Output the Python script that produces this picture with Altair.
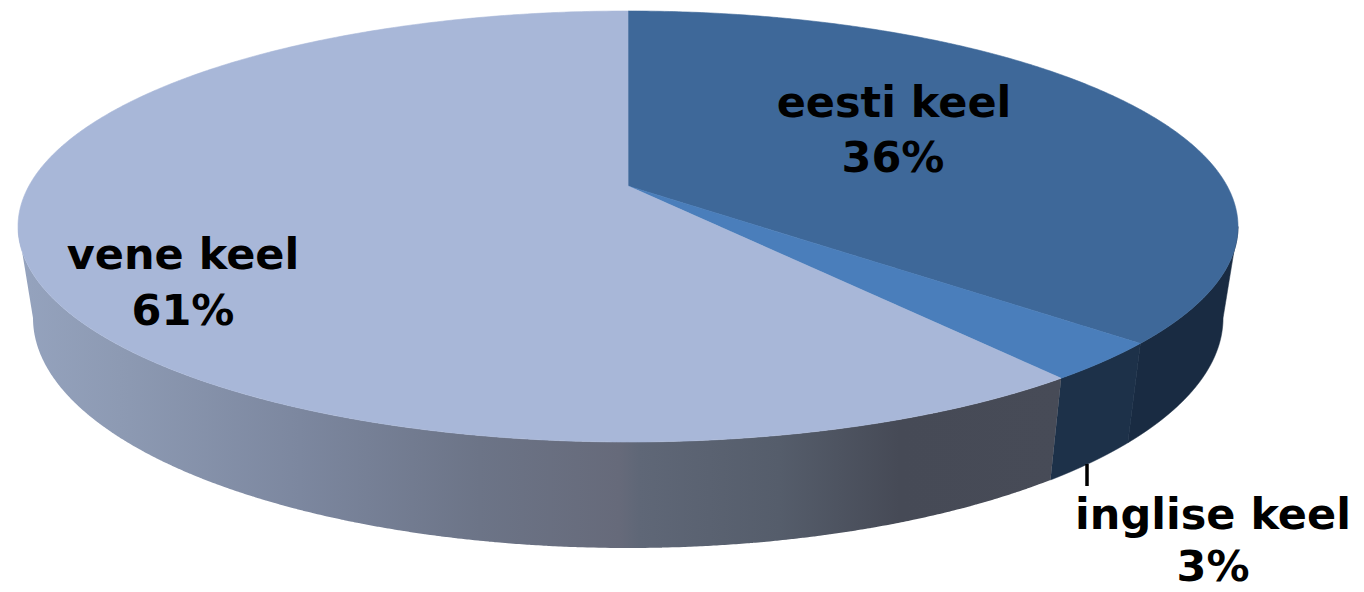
import math
import altair as alt
import pandas as pd

# Shares of the three languages, clockwise from twelve o'clock
languages = ["eesti keel", "inglise keel", "vene keel"]
shares = [36, 3, 61]

top_colors = ["#3E6899", "#4A7EBB", "#A8B7D8"]
wall_colors = ["#192B42", "#1D3149"]

# Tilted-disc geometry: upper rim, lower rim and the projected disc centre
WIDTH, HEIGHT = 1364, 592
CX = 628
TOP_RX, TOP_RY, TOP_CY = 610, 215.5, 226.5
LOW_RX, LOW_RY, LOW_CY = 595, 230, 318
APEX_Y = 186
PERSPECTIVE = -0.145
WALL_STOPS = [
    (18, "#95A3BE"), (120, "#8D9AB3"), (300, "#7C879F"), (480, "#6C7487"),
    (620, "#666A7A"), (640, "#5F6777"), (780, "#555D6B"), (900, "#464A56"),
    (1062, "#474B57"),
]


def rim_unit(pct):
    """Project a cumulative percentage onto the unit rim, with foreshortening."""
    a = math.radians(pct * 3.6)
    u, v = math.sin(a), -math.cos(a)
    d = 1 + PERSPECTIVE * v
    return u * math.sqrt(1 - PERSPECTIVE ** 2) / d, (v + PERSPECTIVE) / d


def rim_px(pct, rx, ry, cy):
    ux, uy = rim_unit(pct)
    return CX + ux * rx, cy + uy * ry


def frange(a, b, n=260):
    return [a + (b - a) * i / n for i in range(n + 1)]


def columns(polygon):
    """Turn a polygon into x / y-top / y-bottom columns for an area mark."""
    xs = sorted({round(p[0] + s, 3) for p in polygon for s in (-0.05, 0.05)})
    rows = []
    n = len(polygon)
    for x in xs:
        hits = []
        for i in range(n):
            (x0, y0), (x1, y1) = polygon[i], polygon[(i + 1) % n]
            if min(x0, x1) <= x < max(x0, x1) and x0 != x1:
                hits.append(y0 + (y1 - y0) * (x - x0) / (x1 - x0))
        if len(hits) >= 2:
            rows.append({"x": x, "y": min(hits), "y2": max(hits)})
    return pd.DataFrame(rows)


def area_layer(polygon, fill, seam=True):
    kwargs = {"stroke": fill, "strokeWidth": 0.6} if seam else {}
    return alt.Chart(columns(polygon)).mark_area(color=fill, **kwargs).encode(
        x=alt.X("x:Q", scale=x_scale, axis=None),
        y=alt.Y("y:Q", scale=y_scale, axis=None),
        y2="y2:Q",
    )


x_scale = alt.Scale(domain=[0, WIDTH], nice=False, zero=False)
y_scale = alt.Scale(domain=[HEIGHT, 0], nice=False, zero=False)

# Cumulative boundaries of the sectors
edges = [0]
for s in shares:
    edges.append(edges[-1] + s)

# Percentages where the disc reaches its far right and far left sides
right_pct = 0
left_pct = 0
best_r, best_l = -9, 9
for i in range(0, 10001):
    p = i / 100
    ux, _ = rim_unit(p)
    if ux > best_r:
        best_r, right_pct = ux, p
    if ux < best_l:
        best_l, left_pct = ux, p


def wall_polygon(a, b):
    upper = [rim_px(p, TOP_RX, TOP_RY, TOP_CY) for p in frange(a, b)]
    lower = [rim_px(p, LOW_RX, LOW_RY, LOW_CY) for p in frange(b, a)]
    return upper + lower


def top_polygon(a, b):
    return [(CX, APEX_Y)] + [rim_px(p, TOP_RX, TOP_RY, TOP_CY) for p in frange(a, b)]


wall_gradient = alt.Gradient(
    gradient="linear", x1=0, x2=1, y1=0, y2=0,
    stops=[alt.GradientStop(offset=(x - 18) / 1044, color=c) for x, c in WALL_STOPS],
)

layers = [
    area_layer(wall_polygon(right_pct, edges[1]), wall_colors[0]),
    area_layer(wall_polygon(edges[1], edges[2]), wall_colors[1]),
    area_layer(wall_polygon(edges[2], left_pct), wall_gradient, seam=False),
    area_layer(top_polygon(edges[0], edges[1]), top_colors[0]),
    area_layer(top_polygon(edges[1], edges[2]), top_colors[1]),
    area_layer(top_polygon(edges[2], edges[3]), top_colors[2]),
]

# Leader line tying the small sector to its label
leader = alt.Chart(pd.DataFrame({"x": [1087], "y": [464], "y2": [486]})).mark_rule(
    color="black", strokeWidth=3.5
).encode(
    x=alt.X("x:Q", scale=x_scale, axis=None),
    y=alt.Y("y:Q", scale=y_scale, axis=None),
    y2="y2:Q",
)
layers.append(leader)

# Two-line labels: language name above, share below
name_anchor = [(894, 117), (1213, 529), (183, 269)]
share_anchor = [(893, 172), (1213, 581), (183, 325)]
label_rows = []
for name, share, na, sa in zip(languages, shares, name_anchor, share_anchor):
    label_rows.append({"x": na[0], "y": na[1], "text": name})
    label_rows.append({"x": sa[0], "y": sa[1], "text": f"{share}%"})

labels = alt.Chart(pd.DataFrame(label_rows)).mark_text(
    font="DejaVu Sans", fontSize=43, fontWeight="bold", color="black",
    align="center", baseline="alphabetic",
).encode(
    x=alt.X("x:Q", scale=x_scale, axis=None),
    y=alt.Y("y:Q", scale=y_scale, axis=None),
    text="text:N",
)
layers.append(labels)

chart = alt.layer(*layers).properties(
    width=WIDTH, height=HEIGHT, padding=0, autosize=alt.AutoSizeParams(type="none"),
    background="white",
).configure_view(stroke=None)

chart.save("out.html", embed_options={"renderer": "svg", "actions": False})
